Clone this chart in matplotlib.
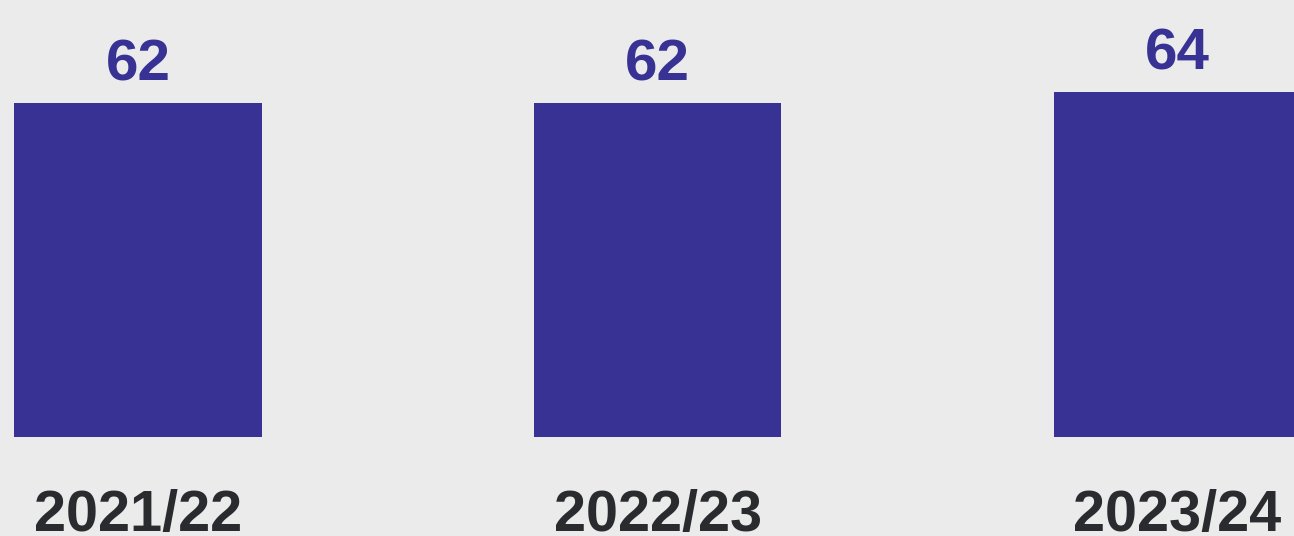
import matplotlib
matplotlib.use("Agg")
import matplotlib.pyplot as plt
from matplotlib.transforms import blended_transform_factory

years = ["2021/22", "2022/23", "2023/24"]
values = [62, 62, 64]

BG = "#EBEBEB"
BAR = "#373294"
TXT = "#2A2B2E"

plt.rcParams["font.family"] = ["Liberation Sans", "DejaVu Sans"]

fig = plt.figure(figsize=(12.94, 5.36), dpi=100, facecolor=BG)
# axes bottom sits on the bar baseline
ax = fig.add_axes([0, 99 / 536, 1, 437 / 536])
ax.set_facecolor(BG)

x = list(range(len(years)))
ax.bar(x, values, width=0.476, color=BAR)

ax.set_xlim(-0.2655, 2.2245)
ax.set_ylim(0, 81.1)
ax.axis("off")

for xi, v in zip(x, values):
    ax.annotate(str(v), (xi, v), xytext=(0, 16), textcoords="offset points",
                ha="center", va="baseline", fontsize=42, fontweight="bold",
                color=BAR)

# year labels sit just above the bottom edge
trans = blended_transform_factory(ax.transData, ax.transAxes)
for xi, lab in zip(x, years):
    ax.text(xi, -0.2150, lab, transform=trans, ha="center", va="baseline",
            fontsize=41.5, fontweight="bold", color=TXT, clip_on=False)

fig.savefig("out.png", dpi=100, facecolor=BG)
plt.close(fig)
